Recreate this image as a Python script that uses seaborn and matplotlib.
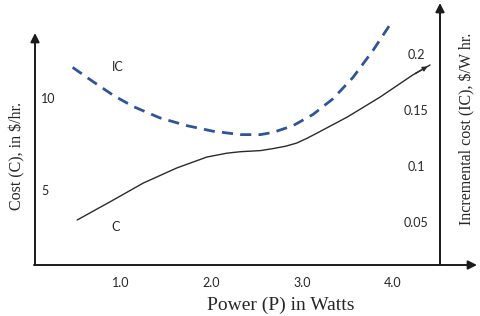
import seaborn as sns
import pandas as pd
import matplotlib.pyplot as plt

# values
power_c = [0.52, 0.88, 1.25, 1.62, 1.95, 2.17, 2.32, 2.54, 2.68, 2.82, 2.94, 3.05, 3.16, 3.50, 3.86,
           4.22, 4.41]
cost = [3.37, 4.35, 5.38, 6.20, 6.79, 7.00, 7.08, 7.14, 7.25, 7.38, 7.55, 7.80, 8.08, 8.97, 10.05,
        11.25, 11.79]

power_ic = [0.47, 0.70, 0.92, 1.14, 1.43, 1.73, 2.02, 2.32, 2.54, 2.68, 2.90, 3.12, 3.34, 3.56, 3.78, 4.00]
inc_cost = [0.188, 0.175, 0.163, 0.153, 0.143, 0.136, 0.131, 0.128, 0.128, 0.130, 0.136, 0.146,
            0.160, 0.179, 0.203, 0.230]

x_ticks = [1.0, 2.0, 3.0, 4.0]
cost_ticks = [5, 10]
ic_ticks = [0.05, 0.1, 0.15, 0.2]

df_c = pd.DataFrame({"P": power_c, "C": cost})
df_ic = pd.DataFrame({"P": power_ic, "IC": inc_cost})

sns.set_style("white")
plt.rcParams["font.family"] = ["Lato", "DejaVu Sans"]

fig = plt.figure(figsize=(4.8, 3.16), dpi=100)
ax = fig.add_axes([35 / 480, 51 / 316, 405 / 480, 262 / 316])
ax2 = ax.twinx()

sns.lineplot(data=df_c, x="P", y="C", ax=ax, color="#2b2b2b", lw=1.0, sort=False)
sns.lineplot(data=df_ic, x="P", y="IC", ax=ax2, color="#2f5597", lw=2.0, sort=False,
             dashes=False, linestyle=(0, (4, 2.6)))

# little arrowhead at the end of the cost curve
ax.annotate("", xy=(power_c[-1], cost[-1]), xytext=(power_c[-2], cost[-2]),
            arrowprops=dict(arrowstyle="-|>", color="#2b2b2b", lw=1.0, mutation_scale=7))

ax.set_xlim(0.055, 4.52)
ax.set_ylim(0.924, 15.16)
ax2.set_ylim(0.0116, 0.2455)

ax.set_xticks(x_ticks)
ax.set_xticklabels([f"{t:.1f}" for t in x_ticks], fontsize=9)
ax.set_yticks(cost_ticks)
ax.set_yticklabels([str(t) for t in cost_ticks], fontsize=9, ha="left")
ax2.set_yticks(ic_ticks)
ax2.set_yticklabels([f"{t:g}" for t in ic_ticks], fontsize=9, ha="center")

ax.tick_params(axis="x", length=0, pad=8.5)
ax.tick_params(axis="y", length=0, pad=-4.3)
ax2.tick_params(axis="y", length=0, pad=-17.3)

ax.set_xlabel("")
ax.set_ylabel("")
ax2.set_ylabel("")
for a in (ax, ax2):
    for s in a.spines.values():
        s.set_visible(False)
    a.patch.set_visible(False)

# axis lines with arrowheads
arrow = dict(arrowstyle="-|>", color="#1a1a1a", lw=1.4, mutation_scale=13, shrinkA=0, shrinkB=0)
ax.annotate("", xy=(35, 283), xytext=(35, 51), xycoords="figure pixels", arrowprops=arrow)
ax.annotate("", xy=(477, 51), xytext=(34, 51), xycoords="figure pixels", arrowprops=arrow)
ax.annotate("", xy=(440, 313), xytext=(440, 51), xycoords="figure pixels", arrowprops=arrow)

# curve names
ax.annotate("IC", xy=(118, 249), xycoords="figure pixels", fontsize=9, ha="center", va="center")
ax.annotate("C", xy=(116, 89), xycoords="figure pixels", fontsize=9, ha="center", va="center")

serif = ["Liberation Serif", "DejaVu Serif"]
fig.text(281 / 480, 1 - 305 / 316, "Power (P) in Watts", ha="center", va="center",
         fontsize=14, family=serif)
fig.text(17 / 480, 1 - 156 / 316, "Cost (C), in $/hr.", ha="center", va="center",
         rotation=90, fontsize=11.5, family=serif)
fig.text(467 / 480, 1 - 129 / 316, "Incremental cost (IC), $/W hr.", ha="center", va="center",
         rotation=90, fontsize=11.5, family=serif)

fig.savefig("out.png", dpi=100)
